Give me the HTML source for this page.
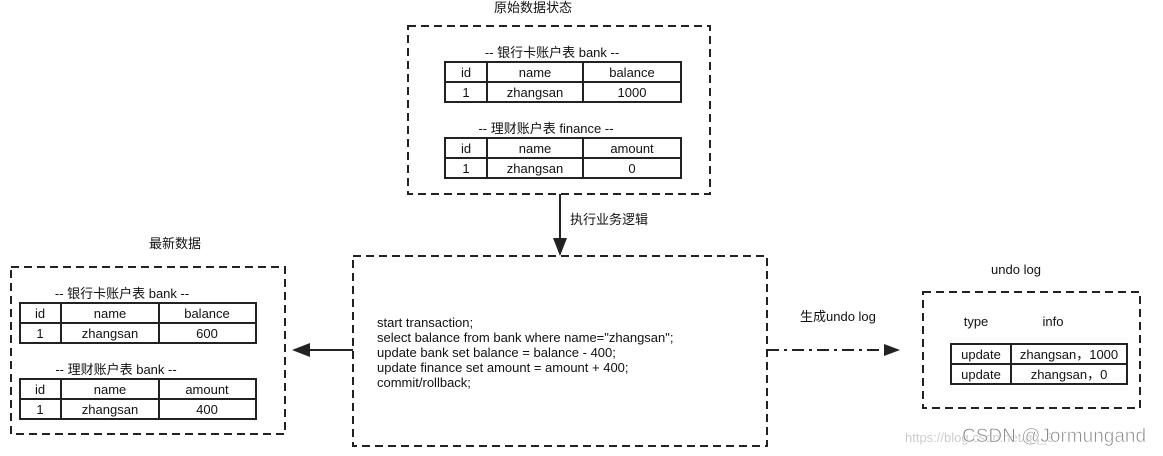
<!DOCTYPE html>
<html><head><meta charset="utf-8"><style>
html,body{margin:0;padding:0;background:#fff;}
svg{display:block;}
text{font-family:"Liberation Sans","Noto Sans CJK SC",sans-serif;font-size:13px;fill:#111;}
.c{text-anchor:middle;}
.box{fill:none;stroke:#222;stroke-width:2;stroke-dasharray:8,5;}
.t{fill:none;stroke:#222;stroke-width:2;}
</style></head><body>
<svg width="1163" height="456" viewBox="0 0 1163 456">
<!-- top -->
<text x="533" y="12" class="c">原始数据状态</text>
<rect class="box" x="408" y="26" width="302" height="168"/>
<text x="552" y="57" class="c">-- 银行卡账户表 bank --</text>
<rect class="t" x="445" y="62" width="236" height="40"/><line class="t" x1="445" y1="82" x2="681" y2="82"/>
<line class="t" x1="487" y1="62" x2="487" y2="102"/><line class="t" x1="583" y1="62" x2="583" y2="102"/>
<text x="466" y="77" class="c">id</text><text x="535" y="77" class="c">name</text><text x="632" y="77" class="c">balance</text>
<text x="466" y="97" class="c">1</text><text x="535" y="97" class="c">zhangsan</text><text x="632" y="97" class="c">1000</text>
<text x="546" y="133" class="c">-- 理财账户表 finance --</text>
<rect class="t" x="445" y="138" width="236" height="40"/><line class="t" x1="445" y1="158" x2="681" y2="158"/>
<line class="t" x1="487" y1="138" x2="487" y2="178"/><line class="t" x1="583" y1="138" x2="583" y2="178"/>
<text x="466" y="153" class="c">id</text><text x="535" y="153" class="c">name</text><text x="632" y="153" class="c">amount</text>
<text x="466" y="173" class="c">1</text><text x="535" y="173" class="c">zhangsan</text><text x="632" y="173" class="c">0</text>
<!-- down arrow -->
<line x1="560" y1="194" x2="560" y2="240" stroke="#222" stroke-width="2"/>
<polygon points="553,238 567,238 560,256" fill="#222"/>
<text x="570" y="224">执行业务逻辑</text>
<!-- middle -->
<rect class="box" x="353" y="256" width="414" height="190"/>
<text x="377" y="327">start transaction;</text>
<text x="377" y="342">select balance from bank where name="zhangsan";</text>
<text x="377" y="357">update bank set balance = balance - 400;</text>
<text x="377" y="372">update finance set amount = amount + 400;</text>
<text x="377" y="387">commit/rollback;</text>
<!-- left arrow -->
<line x1="353" y1="350" x2="306" y2="350" stroke="#222" stroke-width="2"/>
<polygon points="292,350 310,343 310,357" fill="#222"/>
<!-- left -->
<text x="175" y="248" class="c">最新数据</text>
<rect class="box" x="11" y="267" width="274" height="167"/>
<text x="122" y="298" class="c">-- 银行卡账户表 bank --</text>
<rect class="t" x="20" y="303" width="236" height="40"/><line class="t" x1="20" y1="323" x2="256" y2="323"/>
<line class="t" x1="61" y1="303" x2="61" y2="343"/><line class="t" x1="159" y1="303" x2="159" y2="343"/>
<text x="40" y="318" class="c">id</text><text x="110" y="318" class="c">name</text><text x="207" y="318" class="c">balance</text>
<text x="40" y="338" class="c">1</text><text x="110" y="338" class="c">zhangsan</text><text x="207" y="338" class="c">600</text>
<text x="116" y="374" class="c">-- 理财账户表 bank --</text>
<rect class="t" x="20" y="379" width="236" height="40"/><line class="t" x1="20" y1="399" x2="256" y2="399"/>
<line class="t" x1="61" y1="379" x2="61" y2="419"/><line class="t" x1="159" y1="379" x2="159" y2="419"/>
<text x="40" y="394" class="c">id</text><text x="110" y="394" class="c">name</text><text x="207" y="394" class="c">amount</text>
<text x="40" y="414" class="c">1</text><text x="110" y="414" class="c">zhangsan</text><text x="207" y="414" class="c">400</text>
<!-- right arrow dash-dot -->
<line x1="767" y1="350" x2="886" y2="350" stroke="#222" stroke-width="2" stroke-dasharray="12,5,3,5"/>
<polygon points="900,350 884,344 884,356" fill="#222"/>
<text x="800" y="321">生成undo log</text>
<!-- right -->
<text x="1016" y="274" class="c">undo log</text>
<rect class="box" x="923" y="292" width="217" height="116"/>
<text x="976" y="326" class="c">type</text><text x="1053" y="326" class="c">info</text>
<rect class="t" x="951" y="344" width="176" height="40"/><line class="t" x1="951" y1="364" x2="1127" y2="364"/>
<line class="t" x1="1011" y1="344" x2="1011" y2="384"/>
<text x="981" y="359" class="c">update</text><text x="1069" y="359" class="c">zhangsan，1000</text>
<text x="981" y="379" class="c">update</text><text x="1069" y="379" class="c">zhangsan，0</text>
<!-- watermark -->
<text x="905" y="442" style="font-size:13px;fill:#ccc">https://blog.csdn.net/qq_3</text>
<text x="962" y="442" style="font-size:19px;fill:#888;stroke:#fff;stroke-width:0.6">CSDN @Jormungand</text>
</svg>
</body></html>
